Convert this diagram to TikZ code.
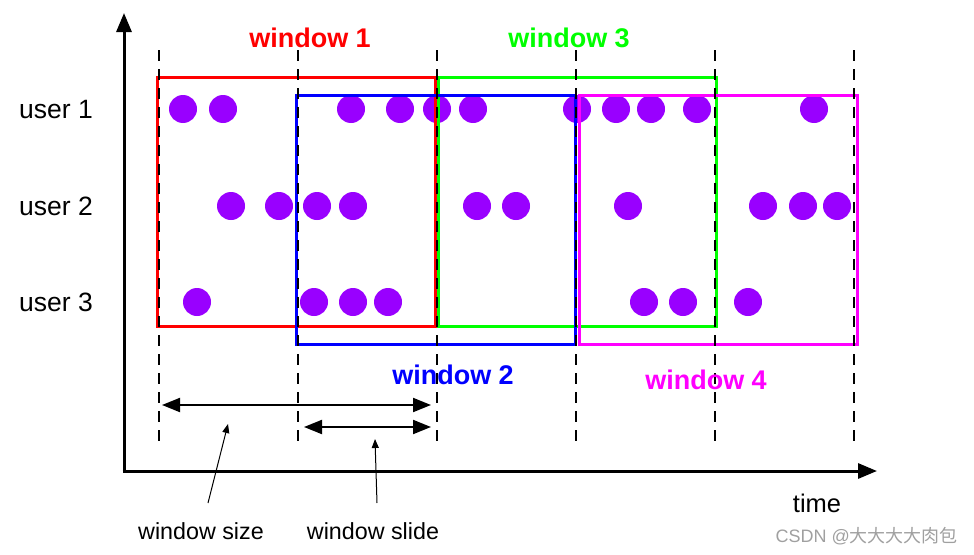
\documentclass[tikz,border=0pt]{standalone}
\usepackage{fontspec}
\setmainfont{Liberation Sans}
\newfontfamily\cjk{Noto Sans CJK SC}
\usetikzlibrary{arrows.meta}
\definecolor{dotc}{HTML}{9900FF}
\definecolor{wred}{HTML}{FF0000}
\definecolor{wgreen}{HTML}{00FF00}
\definecolor{wblue}{HTML}{0000FF}
\definecolor{wmag}{HTML}{FF00FF}
\definecolor{wmark}{HTML}{A0A0A0}
\begin{document}
\begin{tikzpicture}[x=1pt,y=-1pt,
  ev/.style={circle,fill=dotc,minimum size=28pt,inner sep=0pt},
  win/.style={line width=3pt},
  tick/.style={line width=2.3pt,dash pattern=on 11pt off 8pt},
  axis/.style={line width=3pt,-{Triangle[length=19pt,width=15pt]}},
  span/.style={line width=2pt,{Triangle[length=18pt,width=14pt]}-{Triangle[length=18pt,width=14pt]}},
  pointer/.style={line width=1pt,-{Triangle[length=9pt,width=7pt]}},
  wlab/.style={font=\fontsize{27}{27}\selectfont\bfseries,anchor=base},
  ulab/.style={font=\fontsize{26.5}{26.5}\selectfont,anchor=base west,inner sep=0pt},
  blab/.style={font=\fontsize{23.3}{23.3}\selectfont,anchor=base},
]
\useasboundingbox (0,0) rectangle (974,554);
% events
\foreach \x [count=\i] in {183,223,351,400,437,473,577,616,651,697,814}
  \node[ev] (a\i) at (\x,109) {};
\foreach \x [count=\i] in {231,279,317,353,477,516,628,763,803,837}
  \node[ev] (b\i) at (\x,206) {};
\foreach \x [count=\i] in {197,314,353,388,644,683,748}
  \node[ev] (c\i) at (\x,302) {};
% windows
\draw[win,wred] (157,77) rectangle (435,326);
\draw[win,wgreen] (438,77) rectangle (716,326);
\draw[win,wblue] (296,95) rectangle (575,344);
\draw[win,wmag] (579,95) rectangle (857,344);
% time ticks
\foreach \x [count=\i] in {159,298,437,576,715,854}{
  \coordinate (t\i) at (\x,50);
  \coordinate (u\i) at (\x,447);
  \draw[tick] (t\i) -- (u\i);
}
% axes
\coordinate (o) at (124,471);
\coordinate (ytop) at (124,13);
\coordinate (xend) at (877,471);
\draw[axis] (o) -- (ytop);
\draw[axis] ([xshift=-1.5pt]o) -- (xend);
% window labels
\node[wlab,text=wred] (w1) at (310,47) {window 1};
\node[wlab,text=wgreen] (w3) at (569,47) {window 3};
\node[wlab,text=wblue] (w2) at (453,384) {window 2};
\node[wlab,text=wmag] (w4) at (706,389) {window 4};
% user labels
\node[ulab] (l1) at (19,118) {user 1};
\node[ulab] (l2) at (19,215) {user 2};
\node[ulab] (l3) at (19,311) {user 3};
% spans
\coordinate (s1) at (162,405);
\coordinate (s2) at (431,405);
\coordinate (s3) at (304,427);
\coordinate (s4) at (431,427);
\draw[span] (s1) -- (s2);
\draw[span] (s3) -- (s4);
% bottom labels
\node[blab] (size) at (201,539) {window size};
\node[blab] (slide) at (373,539) {window slide};
\coordinate (p1) at (208,503);
\coordinate (p1e) at (228,424);
\coordinate (p2) at (377,503);
\coordinate (p2e) at (375,439);
\draw[pointer] (p1) -- (p1e);
\draw[pointer] (p2) -- (p2e);
\node[font=\fontsize{25.5}{25.5}\selectfont,anchor=base] (time) at (817,512) {time};
\node[font=\fontsize{18}{18}\selectfont,anchor=base east,text=wmark,inner sep=0pt] (mark) at (958,542) {CSDN @{\cjk 大大大大肉包}};
\end{tikzpicture}
\end{document}
